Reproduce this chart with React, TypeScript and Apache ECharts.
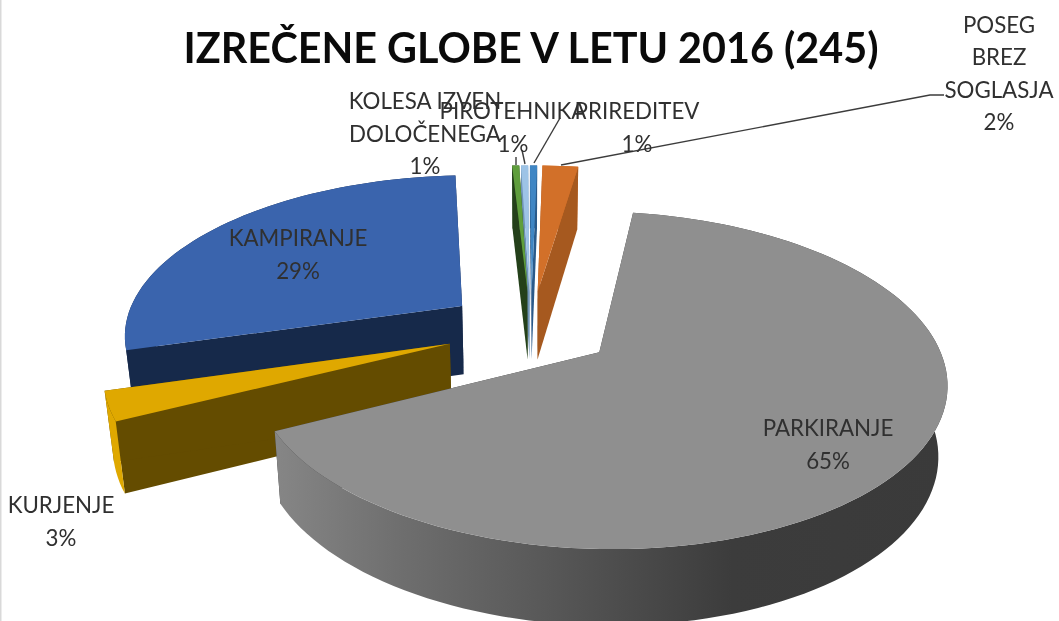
import React, { useEffect, useRef } from "react";
import * as echarts from "echarts";

const TITLE = "IZREČENE GLOBE V LETU 2016 (245)";
const categories = ["PARKIRANJE", "KURJENJE", "KAMPIRANJE", "KOLESA IZVEN\nDOLOČENEGA", "PIROTEHNIKA", "PRIREDITEV", "POSEG\nBREZ\nSOGLASJA"];
const counts = [160, 7, 70, 1, 1, 1, 5];
const percentLabels = ["65%", "3%", "29%", "1%", "1%", "1%", "2%"];

const topColors = ["#8f8f8f", "#dfa800", "#3a64ad", "#5f9e3c", "#9dc3e6", "#3f86c4", "#d27029"];
const sideColors = ["#3a3a3a", "#dfa800", "#16294a", "#2b4a1c", "#7fa3c4", "#2f6496", "#d27029"];
const wallColors = ["#3a3a3a", "#644c00", "#16294a", "#24401a", "#6f93b5", "#2a5a8a", "#a6591f"];
const labelCenters = [[828, 444], [61, 521], [298, 254], [425, 133], [513, 127], [637, 127], [999, 73]];
const radiusScale = [1.01, 1.012, 1.027, 1.02, 1.02, 1.02, 1.02];
const explode = [0.25, 0.26, 0.262, 0.25, 0.25, 0.25, 0.25];

const START_DEG = 8.5;
const CX = 531, CY = 329, RX = 330, RY = 155, K = 0.16, DEPTH = 69, SHRINK = 0.022;
const rad = (d: number) => (d * Math.PI) / 180;

function project(u: number, v: number, z: number): number[] {
  const s = 1 / (1 - K * v);
  return [CX + u * RX * s * (1 - SHRINK * z), CY + v * RY * s + z * DEPTH * Math.sqrt(s)];
}

const total = counts.reduce((a, b) => a + b, 0);

function renderSlice(params: any) {
  const i = params.dataIndex;
  const before = counts.slice(0, i).reduce((a, b) => a + b, 0);
  const a0 = START_DEG + (before / total) * 360;
  const a1 = a0 + (counts[i] / total) * 360;
  const mid = rad((a0 + a1) / 2);
  const au = explode[i] * Math.sin(mid), av = -explode[i] * Math.cos(mid);
  const rim: number[][] = [];
  const n = Math.max(2, Math.ceil((a1 - a0) / 2));
  const r = radiusScale[i];
  for (let j = 0; j <= n; j++) {
    const t = rad(a0 + ((a1 - a0) * j) / n);
    rim.push([au + r * Math.sin(t), av - r * Math.cos(t)]);
  }
  const top = rim.map((p) => project(p[0], p[1], 0));
  const bottom = rim.map((p) => project(p[0], p[1], 1));
  const apexTop = project(au, av, 0), apexBottom = project(au, av, 1);
  const base = Math.round((-Math.cos(mid) + 2) * 100) * 10;
  const sideFill: any = i === 0
    ? new echarts.graphic.LinearGradient(0, 0, 1, 0, [
        { offset: 0, color: "#868686" }, { offset: 0.19, color: "#6e6e6e" },
        { offset: 0.48, color: "#505050" }, { offset: 0.68, color: "#3c3c3c" }, { offset: 1, color: "#3a3a3a" },
      ])
    : sideColors[i];
  const backFacing = Math.cos(mid) > 0;
  const face = (points: number[][], fill: any, z2: number) => ({
    type: "polygon", z2, shape: { points }, style: { fill, stroke: "none" },
  });
  return {
    type: "group",
    children: [
      face([apexTop, top[0], bottom[0], apexBottom], wallColors[i], base),
      face([apexTop, top[n], bottom[n], apexBottom], wallColors[i], base + 1),
      face([...top, ...bottom.slice().reverse()], sideFill, backFacing ? base - 1 : base + 2),
      face([apexTop, ...top], topColors[i], base + 3),
    ],
  };
}

export default function App() {
  const ref = useRef<HTMLDivElement>(null);
  useEffect(() => {
    const chart = echarts.init(ref.current!, null, { renderer: "svg" });
    const line = (points: number[][]) => ({
      type: "polyline", z: 20, shape: { points }, style: { stroke: "#3c3c3c", lineWidth: 1.4, fill: "none" },
    });
    chart.setOption({
      animation: false,
      backgroundColor: "#ffffff",
      title: {
        text: TITLE, left: 526, top: 21, textAlign: "center",
        textStyle: { fontFamily: "Lato", fontWeight: "bold", fontSize: 41.3, color: "#0a0a0a" },
      },
      series: [{ type: "custom", coordinateSystem: "none", renderItem: renderSlice, data: counts, silent: true, clip: false }],
      graphic: [
        { type: "rect", z: 20, shape: { x: 0, y: 0, width: 1.5, height: 621 }, style: { fill: "#d9d9d9" } },
        line([[516, 157], [516, 165]]),
        line([[522, 150], [525, 164]]),
        line([[560, 118], [534, 163]]),
        line([[561, 165], [930, 95], [944, 95]]),
        ...categories.map((c, i) => ({
          type: "text", z: 30, x: labelCenters[i][0], y: labelCenters[i][1],
          style: {
            text: c + "\n" + percentLabels[i], fill: "#303030", font: "22.3px Lato",
            lineHeight: 32.5, align: "center", verticalAlign: "middle",
          },
        })),
      ],
    });
    return () => chart.dispose();
  }, []);
  return <div ref={ref} style={{ position: "absolute", left: 0, top: 0, width: 1059, height: 621, filter: "blur(0.5px)" }} />;
}
